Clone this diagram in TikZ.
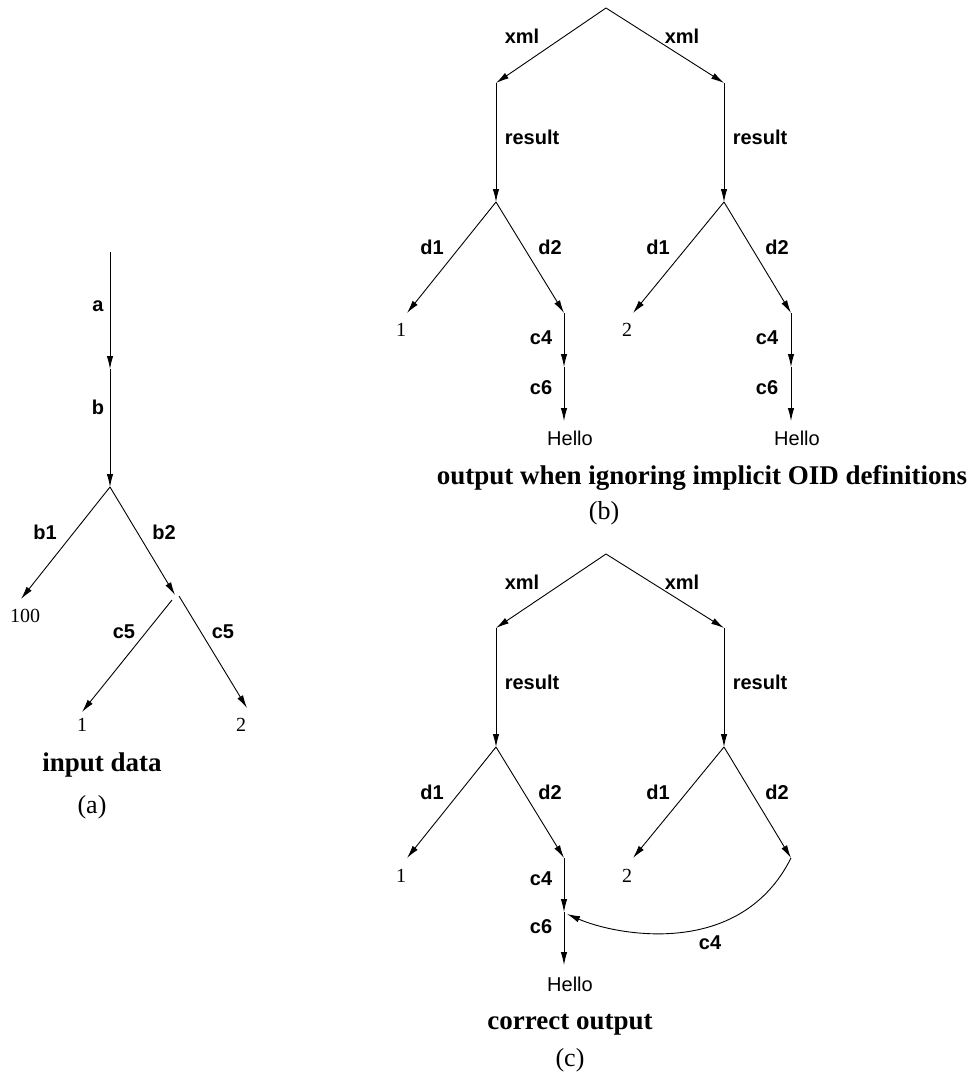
\documentclass[tikz,border=0pt]{standalone}
\usepackage{fontspec}
\setmainfont{Liberation Serif}
\setsansfont{Liberation Sans}
\usetikzlibrary{arrows.meta}

\tikzset{every picture/.style={line width=0.9pt}}
\tikzset{
  edge/.style={-{Latex[length=13pt,width=6.5pt]}},
  lbl/.style={font=\sffamily\bfseries\fontsize{20}{24}\selectfont, inner sep=0.75pt},
  val/.style={font=\fontsize{20}{24}\selectfont, inner sep=0.75pt},
  str/.style={font=\sffamily\fontsize{20}{24}\selectfont, inner sep=0.75pt},
  capt/.style={font=\bfseries\fontsize{27}{32}\selectfont, inner sep=0.75pt},
  tag/.style={font=\fontsize{26}{30}\selectfont, inner sep=0.75pt}
}

\begin{document}
\begin{tikzpicture}[x=1pt,y=1pt,yscale=-1,xscale=1]
\useasboundingbox (0,0) rectangle (969,1074);

% (a) input data
\coordinate (a0) at (110,252);
\coordinate (a1) at (110,369);
\coordinate (a2) at (110,487);
\coordinate (a3) at (21,599);
\coordinate (a4) at (175,595);
\coordinate (a4l) at (172,600);
\coordinate (a4r) at (179,596);
\coordinate (a5) at (82,712);
\coordinate (a6) at (247,708);

%Straight Lines
\draw [edge] (a0) -- (a1) ;
\draw [edge] (a1) -- (a2) ;
\draw [edge] (a2) -- (a3) ;
\draw [edge] (a2) -- (a4) ;
\draw [edge] (a4l) -- (a5) ;
\draw [edge] (a4r) -- (a6) ;

% Text Node
\node [lbl] (la) at (98,306) {a};
\node [lbl] (lb) at (98,407) {b};
\node [lbl] (lb1) at (45,532) {b1};
\node [lbl] (lb2) at (164,532) {b2};
\node [lbl] (lc5a) at (124,632) {c5};
\node [lbl] (lc5b) at (223,632) {c5};
\node [val] (v100) at (25,616) {100};
\node [val] (v1a) at (82,725) {1};
\node [val] (v2a) at (241,725) {2};
\node [capt] (capa) at (102,765) {input data};
\node [tag] (taga) at (92,807) {(a)};

% (b) output when ignoring implicit OID definitions
\coordinate (b0) at (606,8);
\coordinate (bl1) at (496,83);
\coordinate (br1) at (724,83);
\coordinate (bl2) at (496,202);
\coordinate (br2) at (724,202);
\coordinate (bl3) at (407,313);
\coordinate (bl4) at (564,313);
\coordinate (br3) at (633,313);
\coordinate (br4) at (791,313);
\coordinate (bl5) at (564,367);
\coordinate (bl6) at (564,421);
\coordinate (br5) at (791,367);
\coordinate (br6) at (791,421);

%Straight Lines
\draw [edge] (b0) -- (bl1) ;
\draw [edge] (b0) -- (br1) ;
\draw [edge] (bl1) -- (bl2) ;
\draw [edge] (br1) -- (br2) ;
\draw [edge] (bl2) -- (bl3) ;
\draw [edge] (bl2) -- (bl4) ;
\draw [edge] (br2) -- (br3) ;
\draw [edge] (br2) -- (br4) ;
\draw [edge] (bl4) -- (bl5) ;
\draw [edge] (bl5) -- (bl6) ;
\draw [edge] (br4) -- (br5) ;
\draw [edge] (br5) -- (br6) ;

% Text Node
\node [lbl] (bxl) at (522,36) {xml};
\node [lbl] (bxr) at (682,36) {xml};
\node [lbl] (brl) at (532,137) {result};
\node [lbl] (brr) at (760,137) {result};
\node [lbl] (bd1l) at (432,247) {d1};
\node [lbl] (bd2l) at (550,247) {d2};
\node [lbl] (bd1r) at (658,247) {d1};
\node [lbl] (bd2r) at (777,247) {d2};
\node [lbl] (bc4l) at (541,338) {c4};
\node [lbl] (bc6l) at (541,388) {c6};
\node [lbl] (bc4r) at (767,338) {c4};
\node [lbl] (bc6r) at (767,388) {c6};
\node [val] (bv1) at (401,330) {1};
\node [val] (bv2) at (627,330) {2};
\node [str] (bhl) at (570,438) {Hello};
\node [str] (bhr) at (797,438) {Hello};
\node [capt] (capb) at (702,478) {output when ignoring implicit OID definitions};
\node [tag] (tagb) at (604,513) {(b)};

% (c) correct output
\coordinate (c0) at (606,554);
\coordinate (cl1) at (496,628);
\coordinate (cr1) at (724,628);
\coordinate (cl2) at (496,747);
\coordinate (cr2) at (724,747);
\coordinate (cl3) at (407,858);
\coordinate (cl4) at (564,858);
\coordinate (cr3) at (633,858);
\coordinate (cr4) at (791,858);
\coordinate (cl5) at (564,912);
\coordinate (cl6) at (564,965);
\coordinate (cj) at (567,914);

%Straight Lines
\draw [edge] (c0) -- (cl1) ;
\draw [edge] (c0) -- (cr1) ;
\draw [edge] (cl1) -- (cl2) ;
\draw [edge] (cr1) -- (cr2) ;
\draw [edge] (cl2) -- (cl3) ;
\draw [edge] (cl2) -- (cl4) ;
\draw [edge] (cr2) -- (cr3) ;
\draw [edge] (cr2) -- (cr4) ;
\draw [edge] (cl4) -- (cl5) ;
\draw [edge] (cl5) -- (cl6) ;
%Curve Lines
\draw [edge] (cr4) .. controls (740,960) and (615,935) .. (cj) ;

% Text Node
\node [lbl] (cxl) at (522,582) {xml};
\node [lbl] (cxr) at (682,582) {xml};
\node [lbl] (crl) at (532,682) {result};
\node [lbl] (crr) at (760,682) {result};
\node [lbl] (cd1l) at (432,792) {d1};
\node [lbl] (cd2l) at (550,792) {d2};
\node [lbl] (cd1r) at (658,792) {d1};
\node [lbl] (cd2r) at (777,792) {d2};
\node [lbl] (cc4l) at (541,879) {c4};
\node [lbl] (cc6l) at (541,927) {c6};
\node [lbl] (cc4r) at (710,943) {c4};
\node [val] (cv1) at (401,876) {1};
\node [val] (cv2) at (627,876) {2};
\node [str] (chl) at (570,984) {Hello};
\node [capt] (capc) at (570,1025) {correct output};
\node [tag] (tagc) at (570,1060) {(c)};

\end{tikzpicture}
\end{document}
